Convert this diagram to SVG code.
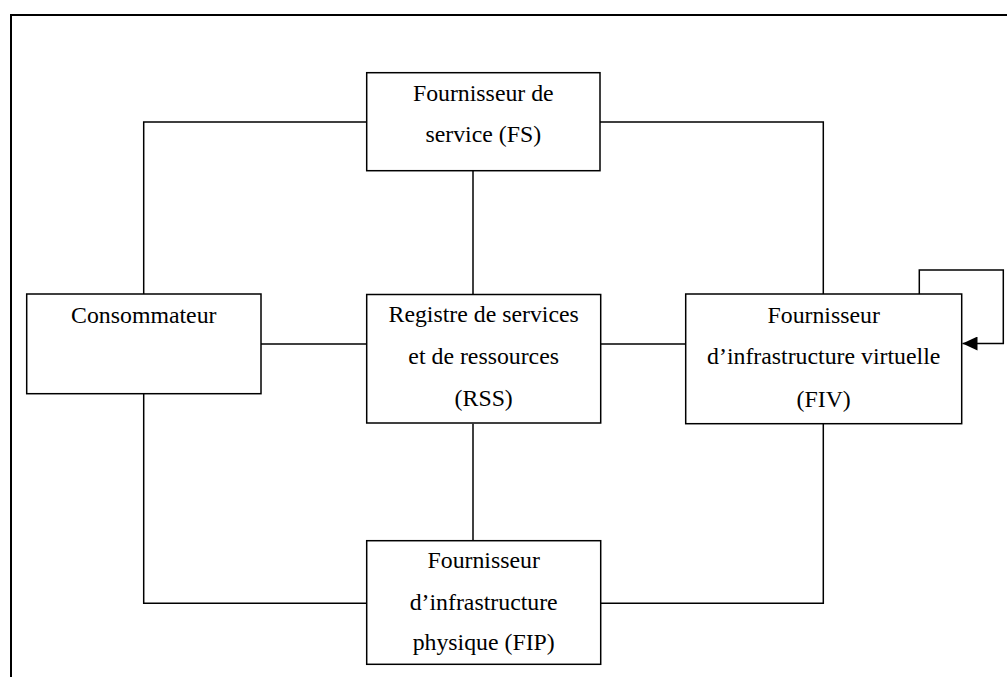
<svg xmlns="http://www.w3.org/2000/svg" width="1007" height="677" viewBox="0 0 1007 677">
<style>
.box{fill:#fff;stroke:#000;stroke-width:1.5}
.c{fill:none;stroke:#000;stroke-width:1.5}
.t{font-family:'Liberation Serif','Times New Roman',serif;font-size:23.8px;fill:#000;text-anchor:middle}
</style>
<defs>
<marker id="arr" markerWidth="16" markerHeight="14" refX="15" refY="7" orient="auto" markerUnits="userSpaceOnUse">
<path d="M0,0 L15,7 L0,14 Z" fill="#000"/>
</marker>
</defs>
<rect width="1007" height="677" fill="#fff"/>
<path d="M11,680 V15 H1010" fill="none" stroke="#000" stroke-width="2"/>
<g id="connectors">
<path class="c" d="M366.7,122 H143.7 V294"/>
<path class="c" d="M600,122 H823.3 V294"/>
<path class="c" d="M473,171 V294"/>
<path class="c" d="M261,344 H366.7"/>
<path class="c" d="M600.7,344 H685.7"/>
<path class="c" d="M473,423.7 V540.7"/>
<path class="c" d="M143.7,393.7 V603.3 H366.7"/>
<path class="c" d="M823.3,423.7 V603.3 H600.7"/>
<path class="c" d="M919.3,294 V270 H1003.3 V343.5 H962.5" marker-end="url(#arr)"/>
</g>
<g font-family="Liberation Serif, serif">
<g id="fs">
<rect class="box" x="366.7" y="72.7" width="233.3" height="98"/>
<text class="t" x="483.3" y="100.7">Fournisseur de</text>
<text class="t" x="483.3" y="141.7">service (FS)</text>
</g>
<g id="consommateur">
<rect class="box" x="26.7" y="294" width="234.3" height="99.7"/>
<text class="t" x="143.8" y="322.7">Consommateur</text>
</g>
<g id="rss">
<rect class="box" x="366.7" y="294.5" width="234" height="128.5"/>
<text class="t" x="483.7" y="321.7">Registre de services</text>
<text class="t" x="483.7" y="364.3">et de ressources</text>
<text class="t" x="483.7" y="405.7">(RSS)</text>
</g>
<g id="fiv">
<rect class="box" x="685.7" y="294" width="276" height="129.7"/>
<text class="t" x="823.7" y="322.7">Fournisseur</text>
<text class="t" x="823.7" y="364">d’infrastructure virtuelle</text>
<text class="t" x="823.7" y="406.7">(FIV)</text>
</g>
<g id="fip">
<rect class="box" x="366.7" y="540.7" width="234" height="123.6"/>
<text class="t" x="483.7" y="568">Fournisseur</text>
<text class="t" x="483.7" y="609.5">d’infrastructure</text>
<text class="t" x="483.7" y="650">physique (FIP)</text>
</g>
</g>
</svg>
